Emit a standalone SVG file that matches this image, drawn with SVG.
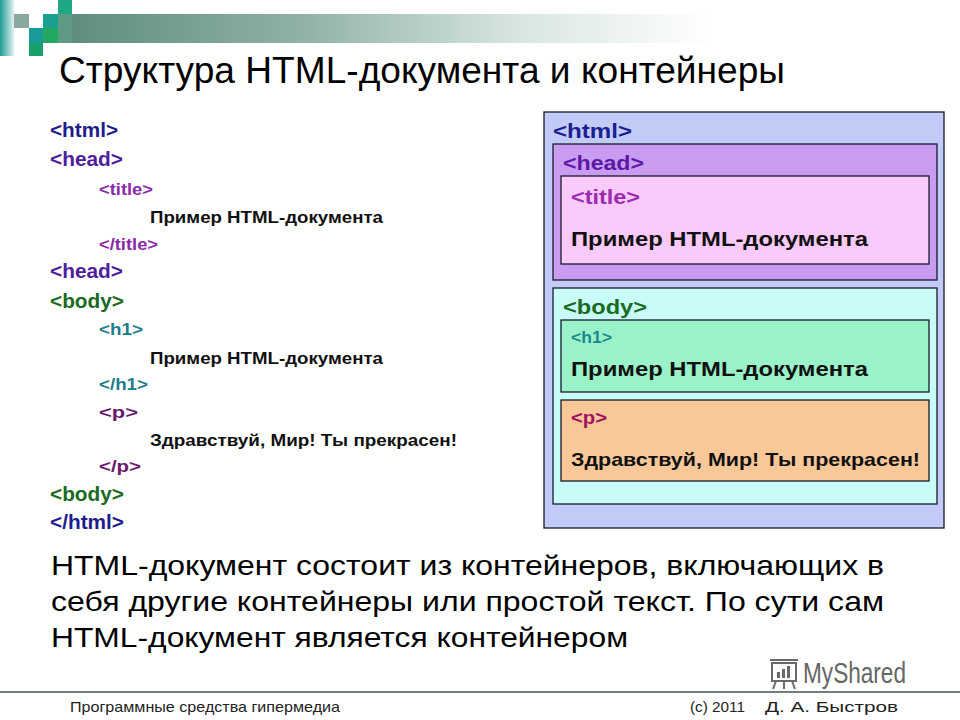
<svg xmlns="http://www.w3.org/2000/svg" width="960" height="720" viewBox="0 0 960 720">
<defs>
<linearGradient id="bar" x1="0" y1="0" x2="1" y2="0">
<stop offset="0" stop-color="#5e8e80"/>
<stop offset="0.35" stop-color="#8fb0a6"/>
<stop offset="0.7" stop-color="#d8e6e2"/>
<stop offset="1" stop-color="#ffffff"/>
</linearGradient>
<linearGradient id="strip" x1="0" y1="0" x2="1" y2="0">
<stop offset="0" stop-color="#1e9c94"/>
<stop offset="1" stop-color="#e4f2f0"/>
</linearGradient>
<style>
.t{font-family:"Liberation Sans",Arial,sans-serif;}
.b{font-family:"Liberation Sans",Arial,sans-serif;font-weight:bold;}
.box{stroke:#1a1a2a;stroke-width:1.3;}
</style>
</defs>
<rect width="960" height="720" fill="#ffffff"/>

<g id="header">
<rect x="72" y="14" width="640" height="29" fill="url(#bar)"/>
<rect x="0" y="0" width="14" height="56" fill="url(#strip)"/>
<rect x="14" y="14" width="15" height="14" fill="#8aa89f"/>
<rect x="43" y="14" width="15" height="14" fill="#1aa090"/>
<rect x="58" y="0" width="14" height="14" fill="#1ea888"/>
<rect x="58" y="14" width="14" height="29" fill="#5f9a84"/>
<rect x="29" y="28" width="14" height="15" fill="#1a9a98"/>
<rect x="43" y="28" width="15" height="15" fill="#22a862"/>
<rect x="29" y="43" width="14" height="13" fill="#18a06a"/>
<text class="t" x="59" y="83" font-size="36" fill="#000" textLength="726" lengthAdjust="spacingAndGlyphs">Структура HTML-документа и контейнеры</text>
</g>

<g id="code">
<text class="b" x="50" y="137" font-size="20" fill="#1c1c8c" textLength="68" lengthAdjust="spacingAndGlyphs">&lt;html&gt;</text>
<text class="b" x="50" y="166" font-size="20" fill="#4e1e9c" textLength="73" lengthAdjust="spacingAndGlyphs">&lt;head&gt;</text>
<text class="b" x="99" y="195" font-size="17" fill="#8a2aa8" textLength="54" lengthAdjust="spacingAndGlyphs">&lt;title&gt;</text>
<text class="b" x="150" y="223" font-size="17" fill="#111" textLength="233" lengthAdjust="spacingAndGlyphs">Пример HTML-документа</text>
<text class="b" x="99" y="250" font-size="17" fill="#8a2aa8" textLength="59" lengthAdjust="spacingAndGlyphs">&lt;/title&gt;</text>
<text class="b" x="50" y="278" font-size="20" fill="#4e1e9c" textLength="73" lengthAdjust="spacingAndGlyphs">&lt;head&gt;</text>
<text class="b" x="50" y="308" font-size="20" fill="#1a6a22" textLength="74" lengthAdjust="spacingAndGlyphs">&lt;body&gt;</text>
<text class="b" x="99" y="335" font-size="17" fill="#1e7c8c" textLength="44" lengthAdjust="spacingAndGlyphs">&lt;h1&gt;</text>
<text class="b" x="150" y="364" font-size="17" fill="#111" textLength="233" lengthAdjust="spacingAndGlyphs">Пример HTML-документа</text>
<text class="b" x="99" y="390" font-size="17" fill="#1e7c8c" textLength="49" lengthAdjust="spacingAndGlyphs">&lt;/h1&gt;</text>
<text class="b" x="99" y="418" font-size="17" fill="#6a1a6e" textLength="39" lengthAdjust="spacingAndGlyphs">&lt;p&gt;</text>
<text class="b" x="150" y="446" font-size="17" fill="#111" textLength="307" lengthAdjust="spacingAndGlyphs">Здравствуй, Мир! Ты прекрасен!</text>
<text class="b" x="99" y="472" font-size="17" fill="#6a1a6e" textLength="42" lengthAdjust="spacingAndGlyphs">&lt;/p&gt;</text>
<text class="b" x="50" y="501" font-size="20" fill="#1a6a22" textLength="74" lengthAdjust="spacingAndGlyphs">&lt;body&gt;</text>
<text class="b" x="50" y="529" font-size="20" fill="#1c1c8c" textLength="74" lengthAdjust="spacingAndGlyphs">&lt;/html&gt;</text>
</g>

<g id="html-box">
<rect class="box" x="544" y="112" width="400" height="416" fill="#c2cbf8"/>
<text class="b" x="553" y="138" font-size="21" fill="#1a2090" textLength="79" lengthAdjust="spacingAndGlyphs">&lt;html&gt;</text>
</g>
<g id="head-box">
<rect class="box" x="553" y="144" width="384" height="136" fill="#c99cf2"/>
<text class="b" x="563" y="170" font-size="21" fill="#5a1aa6" textLength="81" lengthAdjust="spacingAndGlyphs">&lt;head&gt;</text>
</g>
<g id="title-box">
<rect class="box" x="561" y="176" width="368" height="88" fill="#facafa"/>
<text class="b" x="571" y="204" font-size="20" fill="#9a2cb0" textLength="69" lengthAdjust="spacingAndGlyphs">&lt;title&gt;</text>
<text class="b" x="571" y="246" font-size="21" fill="#111" textLength="297" lengthAdjust="spacingAndGlyphs">Пример HTML-документа</text>
</g>
<g id="body-box">
<rect class="box" x="553" y="288" width="384" height="216" fill="#c8fcf8"/>
<text class="b" x="563" y="314" font-size="21" fill="#1a6a22" textLength="84" lengthAdjust="spacingAndGlyphs">&lt;body&gt;</text>
</g>
<g id="h1-box">
<rect class="box" x="561" y="320" width="368" height="72" fill="#9af2c8"/>
<text class="b" x="571" y="343" font-size="16" fill="#1a8a8c" textLength="41" lengthAdjust="spacingAndGlyphs">&lt;h1&gt;</text>
<text class="b" x="571" y="376" font-size="21" fill="#111" textLength="297" lengthAdjust="spacingAndGlyphs">Пример HTML-документа</text>
</g>
<g id="p-box">
<rect class="box" x="561" y="400" width="368" height="81" fill="#f9c899"/>
<text class="b" x="571" y="424" font-size="19" fill="#a01060" textLength="36" lengthAdjust="spacingAndGlyphs">&lt;p&gt;</text>
<text class="b" x="571" y="466" font-size="19" fill="#111" textLength="349" lengthAdjust="spacingAndGlyphs">Здравствуй,  Мир! Ты прекрасен!</text>
</g>

<g id="connectors"></g>

<g id="summary">
<text class="t" x="51" y="575" font-size="28" fill="#000" textLength="833" lengthAdjust="spacingAndGlyphs">HTML-документ состоит из контейнеров, включающих в</text>
<text class="t" x="51" y="611" font-size="28" fill="#000" textLength="833" lengthAdjust="spacingAndGlyphs">себя другие контейнеры или простой текст. По сути сам</text>
<text class="t" x="51" y="647" font-size="28" fill="#000" textLength="577" lengthAdjust="spacingAndGlyphs">HTML-документ является контейнером</text>
</g>

<g id="watermark" fill="none" stroke="#6a6a6a" stroke-width="2">
<rect x="772" y="663" width="24" height="18" />
<path d="M770 660 h28 M776 681 l-3 8 M784 681 v8 M792 681 l3 8" />
<rect x="777" y="672" width="3" height="6" fill="#6a6a6a" stroke="none"/>
<rect x="782" y="669" width="3" height="9" fill="#6a6a6a" stroke="none"/>
<rect x="787" y="666" width="3" height="12" fill="#6a6a6a" stroke="none"/>
<text class="t" x="803" y="683" font-size="29" fill="#666" stroke="none" textLength="103" lengthAdjust="spacingAndGlyphs">MyShared</text>
</g>

<g id="footer">
<line x1="0" y1="692" x2="960" y2="692" stroke="#3c5a4c" stroke-width="1.5"/>
<text class="t" x="70" y="712" font-size="15" fill="#222" textLength="270" lengthAdjust="spacingAndGlyphs">Программные средства гипермедиа</text>
<text class="t" x="690" y="712" font-size="15" fill="#222" textLength="55" lengthAdjust="spacingAndGlyphs">(c) 2011</text>
<text class="t" x="765" y="712" font-size="15" fill="#222" textLength="133" lengthAdjust="spacingAndGlyphs">Д. А. Быстров</text>
</g>
</svg>
